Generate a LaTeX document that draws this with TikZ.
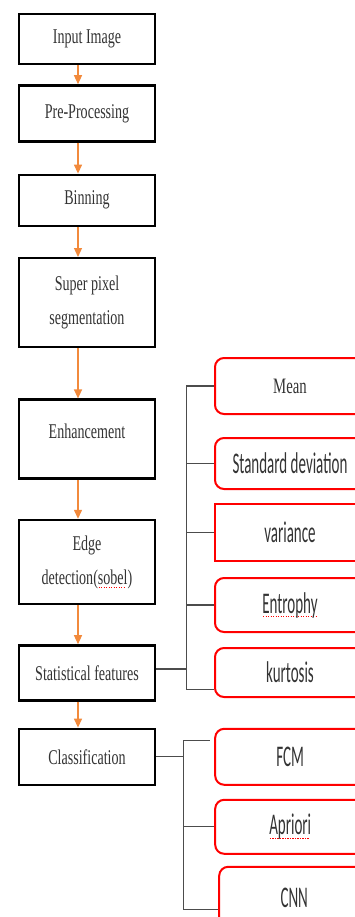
\documentclass[tikz,border=0pt]{standalone}
\usepackage{fontspec}
\newfontfamily\flowfont{Liberation Serif}[FakeStretch=0.67]
\newfontfamily\featfont{Carlito}[FakeStretch=0.5]
\usetikzlibrary{arrows.meta, positioning}

\definecolor{flowcol}{HTML}{F28A3C}
% red dotted spell-check underline
\newcommand{\dotmark}[1]{\setbox0\hbox{#1}\rlap{\textcolor{red}{\raisebox{-4pt}{\hbox to \wd0{\leaders\hbox to 2.5pt{\hss\rule{1.2pt}{1pt}\hss}\hfil}}}}\box0}

\begin{document}
\begin{tikzpicture}[x=1pt, y=1pt,
    stepbox/.style={draw, line width=2.4pt, minimum width=136pt, align=center, text=black!80,
        font=\flowfont\fontsize{21}{34}\selectfont},
    featbox/.style={draw=red, line width=2pt, rounded corners=9pt, minimum width=150pt, align=center, text=black!80,
        font=\featfont\fontsize{30}{32}\selectfont},
    flowarrow/.style={-{Triangle[width=8pt,length=9pt]}, draw=flowcol, line width=1.3pt},
    branch/.style={draw=black!70, line width=1.3pt}]
    \useasboundingbox (0,0) rectangle (355,-917);
    \clip (0,0) rectangle (355,-917);
    % main flow
    \node[stepbox, minimum height=50pt] (input) at (87,-39) {Input Image};
    \node[stepbox, minimum height=56pt] (prep) [below = 19pt of input] {Pre-Processing};
    \node[stepbox, minimum height=51pt] (bin) [below = 31pt of prep] {Binning};
    \node[stepbox, minimum height=89pt] (super) [below = 30pt of bin] {Super pixel\\segmentation};
    \node[stepbox, minimum height=79pt, text depth=15pt] (enh) [below = 50pt of super] {Enhancement};
    \node[stepbox, minimum height=84pt] (edge) [below = 39pt of enh] {Edge\\detection(\dotmark{sobel})};
    \node[stepbox, minimum height=55pt] (stat) [below = 39pt of edge] {Statistical features};
    \node[stepbox, minimum height=56pt] (class) [below = 26pt of stat] {Classification};

    % statistical features
    \node[featbox, minimum height=56pt, anchor=west, font=\flowfont\fontsize{22}{26}\selectfont] (mean) at (214,-386) {Mean};
    \node[featbox, minimum height=51pt] (std) [below = 22pt of mean] {Standard deviation};
    \node[featbox, minimum height=57pt, sharp corners] (var) [below = 13pt of std] {variance};
    \node[featbox, minimum height=54pt] (ent) [below = 15pt of var] {\dotmark{Entrophy}};
    \node[featbox, minimum height=49pt] (kurt) [below = 14pt of ent] {kurtosis};

    % classifiers
    \node[featbox, minimum height=56pt] (fcm) [right = 58pt of class] {FCM};
    \node[featbox, minimum height=54pt] (apri) [below = 13pt of fcm] {\dotmark{Apriori}};
    \node[featbox, minimum height=62pt, xshift=4pt] (cnn) [below = 11pt of apri] {CNN};

    \draw[flowarrow] ([xshift=-9pt]input.south) -- ([xshift=-9pt]prep.north);
    \draw[flowarrow] ([xshift=-9pt]prep.south) -- ([xshift=-9pt]bin.north);
    \draw[flowarrow] ([xshift=-9pt]bin.south) -- ([xshift=-9pt]super.north);
    \draw[flowarrow] ([xshift=-9pt]super.south) -- ([xshift=-9pt]enh.north);
    \draw[flowarrow] ([xshift=-9pt]enh.south) -- ([xshift=-9pt]edge.north);
    \draw[flowarrow] ([xshift=-9pt]edge.south) -- ([xshift=-9pt]stat.north);
    \draw[flowarrow] ([xshift=-9pt]stat.south) -- ([xshift=-9pt]class.north);

    \coordinate (fspine) at ([xshift=30pt, yshift=4pt]stat.east);
    \coordinate (kurtin) at ([yshift=-17pt]kurt.west);
    \draw[branch] ([yshift=4pt]stat.east) -- (fspine);
    \draw[branch] (fspine |- mean.west) -- (fspine |- kurtin);
    \draw[branch] (fspine |- mean.west) -- (mean.west);
    \draw[branch] (fspine |- std.west) -- (std.west);
    \draw[branch] (fspine |- var.west) -- (var.west);
    \draw[branch] (fspine |- ent.west) -- (ent.west);
    \draw[branch] (fspine |- kurtin) -- (kurtin);

    \coordinate (cspine) at ([xshift=27pt]class.east);
    \coordinate (fcmin) at ([xshift=-4pt, yshift=16pt]fcm.west);
    \coordinate (cnnin) at ([yshift=-12pt]cnn.west);
    \draw[branch] (class.east) -- (cspine);
    \draw[branch] (cspine |- fcmin) -- (cspine |- cnnin);
    \draw[branch] (cspine |- fcmin) -- (fcmin);
    \draw[branch] (cspine |- apri.west) -- (apri.west);
    \draw[branch] (cspine |- cnnin) -- (cnnin);
\end{tikzpicture}
\end{document}
